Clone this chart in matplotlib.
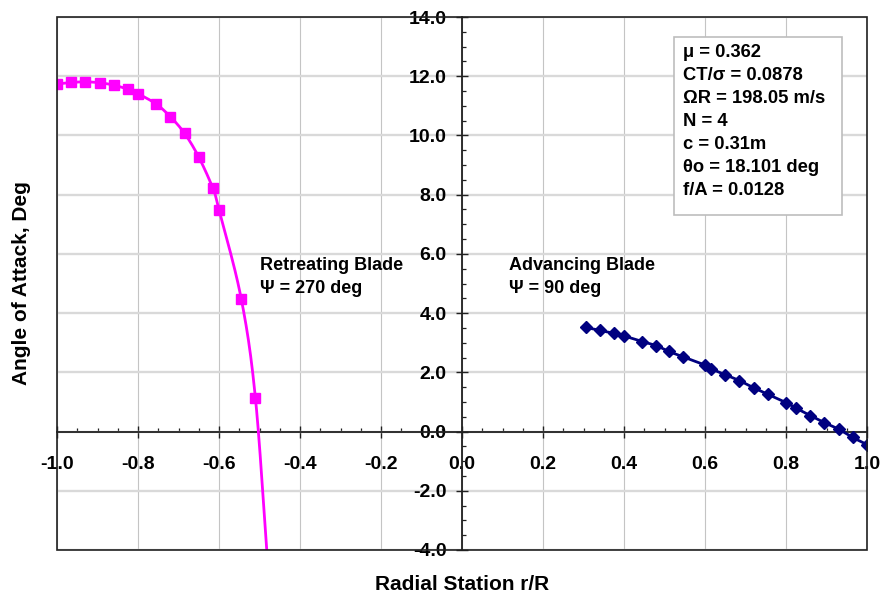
import numpy as np
import matplotlib
matplotlib.use("Agg")
import matplotlib.pyplot as plt
from matplotlib.patches import Rectangle
from matplotlib.ticker import MultipleLocator, FormatStrFormatter

plt.rcParams['font.family'] = ['Liberation Sans', 'DejaVu Sans']
plt.rcParams['font.weight'] = 'bold'
plt.rcParams['axes.unicode_minus'] = False

# ---- data ----
r_retreating = [-1.0, -0.965, -0.93, -0.895, -0.86, -0.825, -0.8, -0.755, -0.72,
                -0.685, -0.65, -0.615, -0.6, -0.545, -0.51, -0.48]
aoa_retreating = [11.74, 11.79, 11.81, 11.78, 11.70, 11.56, 11.41, 11.06, 10.63,
                  10.07, 9.27, 8.21, 7.49, 4.48, 1.12, -4.4]

r_advancing = [0.305, 0.34, 0.375, 0.4, 0.445, 0.48, 0.51, 0.545, 0.6, 0.615, 0.65,
               0.685, 0.72, 0.755, 0.8, 0.825, 0.86, 0.895, 0.93, 0.965, 1.0]
aoa_advancing = [3.52, 3.42, 3.32, 3.23, 3.04, 2.90, 2.71, 2.53, 2.25, 2.12, 1.92,
                 1.72, 1.48, 1.26, 0.98, 0.79, 0.54, 0.30, 0.08, -0.20, -0.44]

info_lines = ["μ = 0.362", "CT/σ = 0.0878", "ΩR = 198.05 m/s", "N = 4",
              "c = 0.31m", "θo = 18.101 deg", "f/A = 0.0128"]
retreating_lines = ["Retreating Blade", "Ψ = 270 deg"]
advancing_lines = ["Advancing Blade", "Ψ = 90 deg"]
xlabel = "Radial Station r/R"
ylabel = "Angle of Attack, Deg"


def smooth(x, y, n=24):
    """Bezier smoothing for drawing the line (like a smoothed chart line)."""
    x = np.asarray(x, float)
    y = np.asarray(y, float)
    px = np.concatenate([[2 * x[0] - x[1]], x, [2 * x[-1] - x[-2]]])
    py = np.concatenate([[2 * y[0] - y[1]], y, [2 * y[-1] - y[-2]]])
    xs, ys = [], []
    t = np.linspace(0, 1, n, endpoint=False)
    for i in range(1, len(px) - 2):
        p0, p1, p2, p3 = (np.array([px[j], py[j]]) for j in (i - 1, i, i + 1, i + 2))
        c1 = p1 + (p2 - p0) / 6.0
        c2 = p2 - (p3 - p1) / 6.0
        tt = t[:, None]
        pts = ((1 - tt) ** 3) * p1 + 3 * ((1 - tt) ** 2) * tt * c1 + 3 * (1 - tt) * tt ** 2 * c2 + tt ** 3 * p2
        xs.extend(pts[:, 0]); ys.extend(pts[:, 1])
    xs.append(x[-1]); ys.append(y[-1])
    return np.array(xs), np.array(ys)


fig = plt.figure(figsize=(8.83, 6.01), dpi=100)
ax = fig.add_axes([57 / 883, 1 - 550 / 601, 810 / 883, 533 / 601])
ax.set_xlim(-1.0, 1.0)
ax.set_ylim(-4.0, 14.0)

# grid
ax.set_axisbelow(True)
ax.xaxis.grid(True, which='major', color='#c4c4c4', lw=0.8)
ax.yaxis.grid(True, which='major', color='#d9d9d9', lw=1.7)

# spines through origin
for s in ('top', 'right'):
    ax.spines[s].set_visible(False)
ax.spines['left'].set_position(('data', 0))
ax.spines['bottom'].set_position(('data', 0))
for s in ('left', 'bottom'):
    ax.spines[s].set_linewidth(1.3)
    ax.spines[s].set_color('#202020')

frame = Rectangle((0, 0), 1, 1, transform=ax.transAxes, fill=False,
                  ec='#202020', lw=1.2, clip_on=False, zorder=5)
ax.add_patch(frame)

ax.xaxis.set_major_locator(MultipleLocator(0.2))
ax.xaxis.set_minor_locator(MultipleLocator(0.05))
ax.yaxis.set_major_locator(MultipleLocator(2.0))
ax.yaxis.set_minor_locator(MultipleLocator(0.5))
ax.xaxis.set_major_formatter(FormatStrFormatter('%.1f'))
ax.yaxis.set_major_formatter(FormatStrFormatter('%.1f'))

ax.tick_params(which='major', direction='inout', length=8.5, width=1.0, color='#202020')
ax.tick_params(which='minor', direction='in', length=3, width=0.9, color='#202020')
ax.tick_params(axis='x', which='major', pad=13, labelsize=14)
ax.tick_params(axis='y', which='major', pad=7, labelsize=14)
for lab in ax.get_xticklabels() + ax.get_yticklabels():
    lab.set_fontweight('bold')

# series
sx, sy = smooth(r_retreating, aoa_retreating)
ax.plot(sx, sy, color='#FF00FF', lw=2.0, zorder=3)
ax.plot(r_retreating, aoa_retreating, ls='none', marker='s', ms=7.2,
        color='#FF00FF', mec='#FF00FF', zorder=4)

ax2x, ax2y = smooth(r_advancing, aoa_advancing)
ax.plot(ax2x, ax2y, color='#000080', lw=2.0, zorder=3)
ax.plot(r_advancing, aoa_advancing, ls='none', marker='D', ms=6.5,
        color='#000080', mec='#000080', zorder=4)

# annotations
for i, line in enumerate(retreating_lines):
    ax.text(-0.499, 5.46 - i * 0.776, line, fontsize=13, fontweight='bold',
            va='baseline', ha='left', zorder=6)
for i, line in enumerate(advancing_lines):
    ax.text(0.116, 5.46 - i * 0.776, line, fontsize=13, fontweight='bold',
            va='baseline', ha='left', zorder=6)

box = Rectangle((0.523, 7.32), 0.938 - 0.523, 13.32 - 7.32, fc='white',
                ec='#bdbdbd', lw=1.2, zorder=6)
ax.add_patch(box)
for i, line in enumerate(info_lines):
    ax.text(0.546, 12.66 - i * 0.776, line, fontsize=13.2, fontweight='bold',
            va='baseline', ha='left', zorder=7)

fig.text(462 / 883, 1 - 585 / 601, xlabel, fontsize=15, fontweight='bold',
         ha='center', va='center')
fig.text(22 / 883, 1 - 283 / 601, ylabel, fontsize=15, fontweight='bold',
         ha='center', va='center', rotation=90)

fig.savefig('out.png', dpi=100)
